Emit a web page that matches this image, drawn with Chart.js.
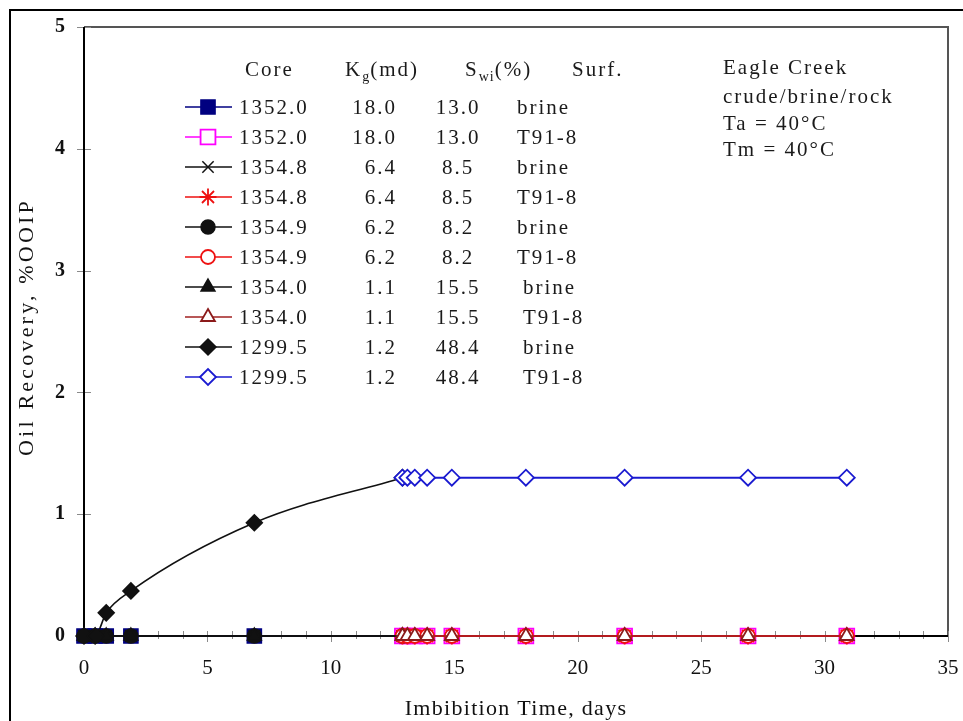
<!DOCTYPE html>
<html>
<head>
<meta charset="utf-8">
<script src="https://cdn.jsdelivr.net/npm/chart.js@4/dist/chart.umd.min.js"></script>
<style>
  html, body { margin: 0; padding: 0; background: #fff; }
  canvas { display: block; }
</style>
</head>
<body>
<canvas id="c" width="963" height="721"></canvas>
<script>
// Imbibition time (days): brine stage, then surfactant (T91-8) stage
const brineDays = [0, 0.45, 0.9, 1.9, 6.9, 12.9];
const surfDays  = [12.9, 13.1, 13.4, 13.9, 14.9, 17.9, 21.9, 26.9, 30.9];

// Oil recovery, %OOIP
const rec1352Brine = [0, 0, 0, 0, 0, 0];
const rec1352Surf  = [0, 0, 0, 0, 0, 0, 0, 0, 0];
const rec13548Brine = [0, 0, 0, 0, 0, 0];
const rec13548Surf  = [0, 0, 0, 0, 0, 0, 0, 0, 0];
const rec13549Brine = [0, 0, 0, 0, 0, 0];
const rec13549Surf  = [0, 0, 0, 0, 0, 0, 0, 0, 0];
const rec13540Brine = [0, 0, 0, 0, 0, 0];
const rec13540Surf  = [0, 0, 0, 0, 0, 0, 0, 0, 0];
const rec1299Brine = [0, 0, 0.19, 0.37, 0.93, 1.3];
const rec1299Surf  = [1.3, 1.3, 1.3, 1.3, 1.3, 1.3, 1.3, 1.3, 1.3];

// Legend table columns
const cores = ['1352.0', '1352.0', '1354.8', '1354.8', '1354.9', '1354.9', '1354.0', '1354.0', '1299.5', '1299.5'];
const kgValues = ['18.0', '18.0', '6.4', '6.4', '6.2', '6.2', '1.1', '1.1', '1.2', '1.2'];
const swiValues = ['13.0', '13.0', '8.5', '8.5', '8.2', '8.2', '15.5', '15.5', '48.4', '48.4'];
const surfValues = ['brine', 'T91-8', 'brine', 'T91-8', 'brine', 'T91-8', 'brine', 'T91-8', 'brine', 'T91-8'];

// Conditions note
const noteLines = ['Eagle Creek', 'crude/brine/rock', 'Ta = 40\u00B0C', 'Tm = 40\u00B0C'];

// Axis ticks
const xTicks = [0, 5, 10, 15, 20, 25, 30, 35];
const yTicks = [0, 1, 2, 3, 4, 5];
const xMinorStep = 1;

const toPoints = (xs, ys) => xs.map((x, i) => ({ x: x, y: ys[i] }));

const seriesData = [
  toPoints(brineDays, rec1352Brine), toPoints(surfDays, rec1352Surf),
  toPoints(brineDays, rec13548Brine), toPoints(surfDays, rec13548Surf),
  toPoints(brineDays, rec13549Brine), toPoints(surfDays, rec13549Surf),
  toPoints(brineDays, rec13540Brine), toPoints(surfDays, rec13540Surf),
  toPoints(brineDays, rec1299Brine), toPoints(surfDays, rec1299Surf)
];

// Marker / line style of each series
const styles = [
  { line: '#000080', fill: '#000080', edge: '#000080', shape: 'rect',     r: 10,  lw: 1.5 },
  { line: '#ff00ff', fill: '#ffffff', edge: '#ff00ff', shape: 'rect',     r: 10.5, lw: 1.8 },
  { line: '#111111', fill: '#111111', edge: '#111111', shape: 'crossRot', r: 8,   lw: 1.5 },
  { line: '#ee1111', fill: '#ee1111', edge: '#ee1111', shape: 'star',     r: 8.5, lw: 1.8 },
  { line: '#111111', fill: '#111111', edge: '#111111', shape: 'circle',   r: 7,   lw: 1.5 },
  { line: '#ee1111', fill: '#ffffff', edge: '#ee1111', shape: 'circle',   r: 7,   lw: 1.8 },
  { line: '#111111', fill: '#111111', edge: '#111111', shape: 'triangle', r: 8,   lw: 1.5 },
  { line: '#a02020', fill: '#ffffff', edge: '#8b1a1a', shape: 'triangle', r: 8,   lw: 1.8 },
  { line: '#111111', fill: '#111111', edge: '#111111', shape: 'rectRot',  r: 8,   lw: 1.5 },
  { line: '#1a1ad0', fill: '#ffffff', edge: '#1a1ad0', shape: 'rectRot',  r: 8,   lw: 1.8 }
];

const datasets = seriesData.map((pts, i) => {
  const s = styles[i];
  return {
    label: cores[i] + ' ' + surfValues[i],
    data: pts,
    showLine: true,
    borderColor: s.line,
    borderWidth: i === 9 ? 2 : 1.6,
    backgroundColor: s.fill,
    pointStyle: s.shape,
    pointRadius: s.r,
    pointHoverRadius: s.r,
    pointBackgroundColor: s.fill,
    pointBorderColor: s.edge,
    pointBorderWidth: s.lw,
    cubicInterpolationMode: i === 8 ? 'monotone' : 'default',
    tension: 0,
    clip: 14,
    order: seriesData.length - i
  };
});

const SERIF = '"Liberation Serif", "Times New Roman", serif';

// White page with the outer frame line
const pageFrame = {
  id: 'pageFrame',
  beforeDraw(chart) {
    const ctx = chart.ctx;
    ctx.save();
    ctx.fillStyle = '#ffffff';
    ctx.fillRect(0, 0, chart.width, chart.height);
    ctx.strokeStyle = '#000000';
    ctx.lineWidth = 2;
    ctx.strokeRect(10, 10, chart.width + 10, chart.height + 10);
    ctx.restore();
  }
};

// Plot frame, axis lines and crossing tick marks
const plotFrame = {
  id: 'plotFrame',
  beforeDatasetsDraw(chart) {
    const { ctx, chartArea: a, scales: { x, y } } = chart;
    ctx.save();
    // top and right border of the plot area
    ctx.strokeStyle = '#555555';
    ctx.lineWidth = 2;
    ctx.beginPath();
    ctx.moveTo(a.left, a.top);
    ctx.lineTo(a.right, a.top);
    ctx.lineTo(a.right, a.bottom);
    ctx.stroke();
    // ticks
    ctx.strokeStyle = '#8a8a8a';
    ctx.lineWidth = 1;
    ctx.beginPath();
    for (let v = x.min; v <= x.max + 1e-9; v += xMinorStep) {
      const px = Math.round(x.getPixelForValue(v)) + 0.5;
      const major = xTicks.indexOf(v) >= 0;
      ctx.moveTo(px, a.bottom - 5);
      ctx.lineTo(px, a.bottom + (major ? 6 : 3));
    }
    yTicks.forEach(v => {
      const py = Math.round(y.getPixelForValue(v)) + 0.5;
      ctx.moveTo(a.left - 7, py);
      ctx.lineTo(a.left + 7, py);
    });
    ctx.stroke();
    // axes
    ctx.strokeStyle = '#000000';
    ctx.lineWidth = 2;
    ctx.beginPath();
    ctx.moveTo(a.left, a.top);
    ctx.lineTo(a.left, a.bottom);
    ctx.lineTo(a.right, a.bottom);
    ctx.stroke();
    ctx.restore();
  }
};

function spacedText(ctx, text, x, y, font, spacing, align) {
  ctx.font = font;
  ctx.letterSpacing = spacing + 'px';
  ctx.textAlign = align || 'left';
  ctx.fillText(text, x, y);
  ctx.letterSpacing = '0px';
}

// Draws a run of text pieces, some of them as subscripts
function richText(ctx, parts, x, y) {
  let cx = x;
  parts.forEach(p => {
    ctx.font = (p.sub ? '14px ' : '21px ') + SERIF;
    ctx.letterSpacing = (p.sub ? 1 : 2) + 'px';
    ctx.textAlign = 'left';
    ctx.fillText(p.t, cx, y + (p.sub ? 5 : 0));
    cx += ctx.measureText(p.t).width;
  });
  ctx.letterSpacing = '0px';
}

// Legend table, conditions note and axis titles
const annotations = {
  id: 'annotations',
  afterDraw(chart) {
    const ctx = chart.ctx;
    const F = '21px ' + SERIF;
    ctx.save();
    ctx.fillStyle = '#1a1a1a';
    ctx.textBaseline = 'alphabetic';

    // header row
    const hy = 76;
    spacedText(ctx, 'Core', 245, hy, F, 2);
    richText(ctx, [{ t: 'K' }, { t: 'g', sub: true }, { t: '(md)' }], 345, hy);
    richText(ctx, [{ t: 'S' }, { t: 'wi', sub: true }, { t: '(%)' }], 465, hy);
    spacedText(ctx, 'Surf.', 572, hy, F, 2);

    // one row per series
    chart.data.datasets.forEach((ds, i) => {
      const cy = 107 + 30 * i;
      const by = cy + 7;
      ctx.strokeStyle = ds.borderColor;
      ctx.lineWidth = 1.6;
      ctx.beginPath();
      ctx.moveTo(185, cy);
      ctx.lineTo(232, cy);
      ctx.stroke();
      ctx.fillStyle = ds.pointBackgroundColor;
      ctx.strokeStyle = ds.pointBorderColor;
      ctx.lineWidth = ds.pointBorderWidth;
      Chart.helpers.drawPoint(ctx, {
        pointStyle: ds.pointStyle, radius: ds.pointRadius,
        rotation: 0, borderWidth: ds.pointBorderWidth
      }, 208, cy);

      ctx.fillStyle = '#1a1a1a';
      spacedText(ctx, cores[i], 239, by, F, 2);
      spacedText(ctx, kgValues[i], 397, by, F, 2, 'right');
      spacedText(ctx, swiValues[i], 458, by, F, 2, 'center');
      spacedText(ctx, surfValues[i], i < 6 ? 517 : 523, by, F, 2);
    });

    // conditions note
    const noteY = [74, 103, 130, 156];
    noteLines.forEach((t, i) => spacedText(ctx, t, 723, noteY[i], F, 2));

    // axis titles
    ctx.fillStyle = '#111111';
    spacedText(ctx, 'Imbibition Time, days', 516, 715, '22px ' + SERIF, 1.3, 'center');
    ctx.translate(33, 327);
    ctx.rotate(-Math.PI / 2);
    spacedText(ctx, 'Oil Recovery, %OOIP', 0, 0, '22px ' + SERIF, 3.2, 'center');
    ctx.restore();
  }
};

new Chart(document.getElementById('c'), {
  type: 'scatter',
  data: { datasets: datasets },
  options: {
    responsive: false,
    animation: false,
    events: [],
    layout: { padding: { left: 0, top: 27, right: 15, bottom: 0 } },
    plugins: { legend: { display: false }, tooltip: { enabled: false } },
    scales: {
      x: {
        type: 'linear',
        min: 0, max: 35,
        afterBuildTicks: s => { s.ticks = xTicks.map(v => ({ value: v })); },
        afterFit: s => { s.height = 85; },
        // tick marks are drawn by plotFrame; tickLength only spaces the labels
        grid: { display: false, drawTicks: true, tickLength: 20 },
        border: { display: false },
        ticks: { padding: 0, color: '#111', font: { family: SERIF, size: 21 } }
      },
      y: {
        type: 'linear',
        min: 0, max: 5,
        afterBuildTicks: s => { s.ticks = yTicks.map(v => ({ value: v })); },
        afterFit: s => { s.width = 84; },
        grid: { display: false, drawTicks: true, tickLength: 19 },
        border: { display: false },
        ticks: { padding: 0, color: '#111', font: { family: SERIF, size: 20, weight: 'bold' } }
      }
    }
  },
  plugins: [pageFrame, plotFrame, annotations]
});
</script>
</body>
</html>
